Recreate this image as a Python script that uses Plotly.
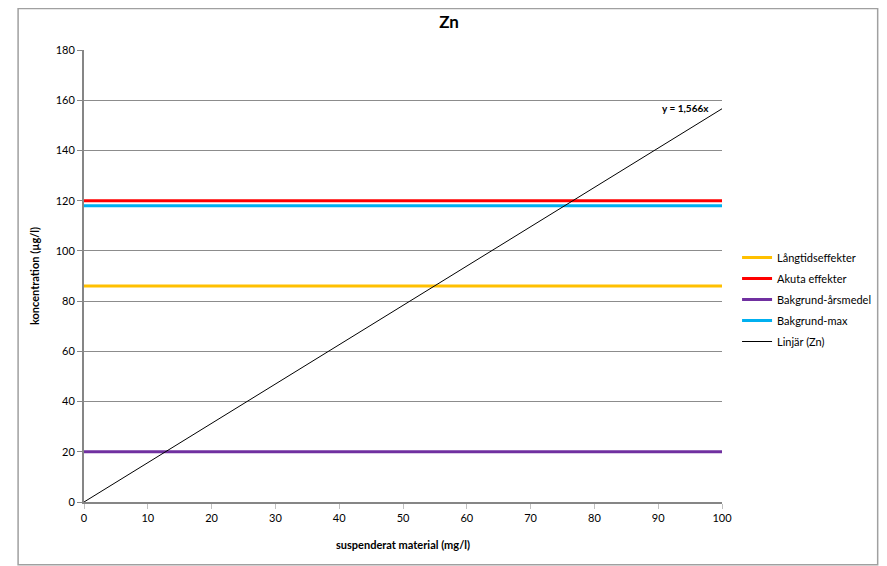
import plotly.graph_objects as go

x_range = [0, 100]
series_names = ["Långtidseffekter", "Akuta effekter", "Bakgrund-årsmedel", "Bakgrund-max"]
series_values = [86, 120, 20, 118]
series_colors = ["#FFC000", "#FF0000", "#7030A0", "#00B0F0"]
slope = 1.566
trend_name = "Linjär (Zn)"
trend_label = "y = 1,566x"
x_ticks = list(range(0, 101, 10))
y_ticks = list(range(0, 181, 20))

FONT = "Liberation Sans Narrow, Arial Narrow, Lato, sans-serif"

fig = go.Figure()
for i, (name, val, col) in enumerate(zip(series_names, series_values, series_colors)):
    fig.add_trace(go.Scatter(x=x_range, y=[val, val], mode="lines", name=name,
                             legendgroup=f"g{i}", line=dict(color=col, width=3)))
fig.add_trace(go.Scatter(x=x_range, y=[slope * v for v in x_range], mode="lines",
                         name=trend_name, legendgroup="gt", line=dict(color="black", width=1)))

fig.add_annotation(x=100, y=slope * 100, text=f"<b>{trend_label}</b>", showarrow=False,
                   xanchor="right", yanchor="middle", xshift=-11, yshift=1,
                   font=dict(size=10, color="black", family=FONT))

fig.add_shape(type="rect", xref="paper", yref="paper", x0=-0.1033, x1=1.244, y0=-0.139, y1=1.0918,
              line=dict(color="#A0A0A0", width=1.5), fillcolor="rgba(0,0,0,0)", layer="below")

fig.update_layout(
    width=879, height=558,
    margin=dict(l=76, r=164, t=42, b=64),
    paper_bgcolor="white", plot_bgcolor="white",
    font=dict(family=FONT, size=11, color="black"),
    title=dict(text="<b>Zn</b>", x=0.5017, xanchor="center", y=1 - 14 / 558, yanchor="middle",
               font=dict(size=17, family=FONT)),
    showlegend=True,
    legend=dict(x=1.022, y=0.573, xanchor="left", yanchor="top", font=dict(size=11, family=FONT),
                bgcolor="rgba(0,0,0,0)", tracegroupgap=2, itemwidth=30),
    xaxis=dict(range=[0, 100], tickvals=x_ticks, showgrid=False, zeroline=False,
               showline=True, linecolor="#868686", linewidth=2, ticks="outside",
               tickcolor="#C0C0C0", ticklen=5, tickwidth=1, tickfont=dict(size=11),
               title=dict(text="<b>suspenderat material (mg/l)</b>", font=dict(size=11), standoff=18)),
    yaxis=dict(range=[0, 180], tickvals=y_ticks, showgrid=True, gridcolor="#8C8C8C", gridwidth=1,
               zeroline=False, showline=True, linecolor="#868686", linewidth=2, ticks="outside",
               tickcolor="#868686", ticklen=5, tickfont=dict(size=11),
               title=dict(text="<b>koncentration (µg/l)</b>", font=dict(size=11), standoff=14)),
)

fig.write_html("out.html")
